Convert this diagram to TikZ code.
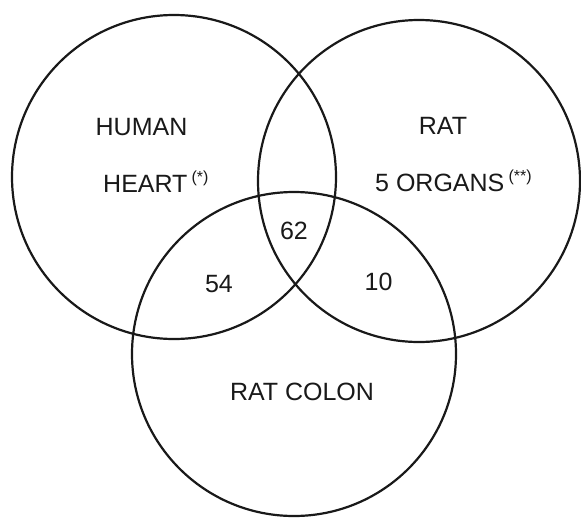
\documentclass[tikz,border=0pt]{standalone}
\usepackage{fontspec}
\setmainfont{Liberation Sans}
\usepackage{tikz}
\newcommand\supmark[1]{\,\raisebox{0.4em}{\fontsize{16}{16}\selectfont #1}}

\begin{document}
\begin{tikzpicture}[x=1pt, y=-1pt, set/.style={draw=black!90, line width=2.2pt}, lbl/.style={inner sep=0pt, font=\fontsize{25}{28}\selectfont, text=black!90}]
\useasboundingbox (0,0) rectangle (581,517);
\coordinate (heart) at (174,177);
\coordinate (organs) at (419,181);
\coordinate (colon) at (294,354);
\draw[set] (heart) circle (162);
\draw[set] (organs) circle (161);
\draw[set] (colon) circle (162);
\node[lbl, anchor=base] (human) at (141.5,135) {HUMAN};
\node[lbl, anchor=base west] (hrt) at (103,192) {HEART\supmark{(*)}};
\node[lbl, anchor=base] (rat) at (443,134) {RAT};
\node[lbl, anchor=base west] (org) at (375,191) {5 ORGANS\supmark{(**)}};
\node[lbl, anchor=base] (col) at (302,400) {RAT COLON};
\node[lbl, anchor=base] (all) at (294,239) {62};
\node[lbl, anchor=base] (hc) at (219,292) {54};
\node[lbl, anchor=base] (oc) at (378.5,290) {10};
\end{tikzpicture}
\end{document}
